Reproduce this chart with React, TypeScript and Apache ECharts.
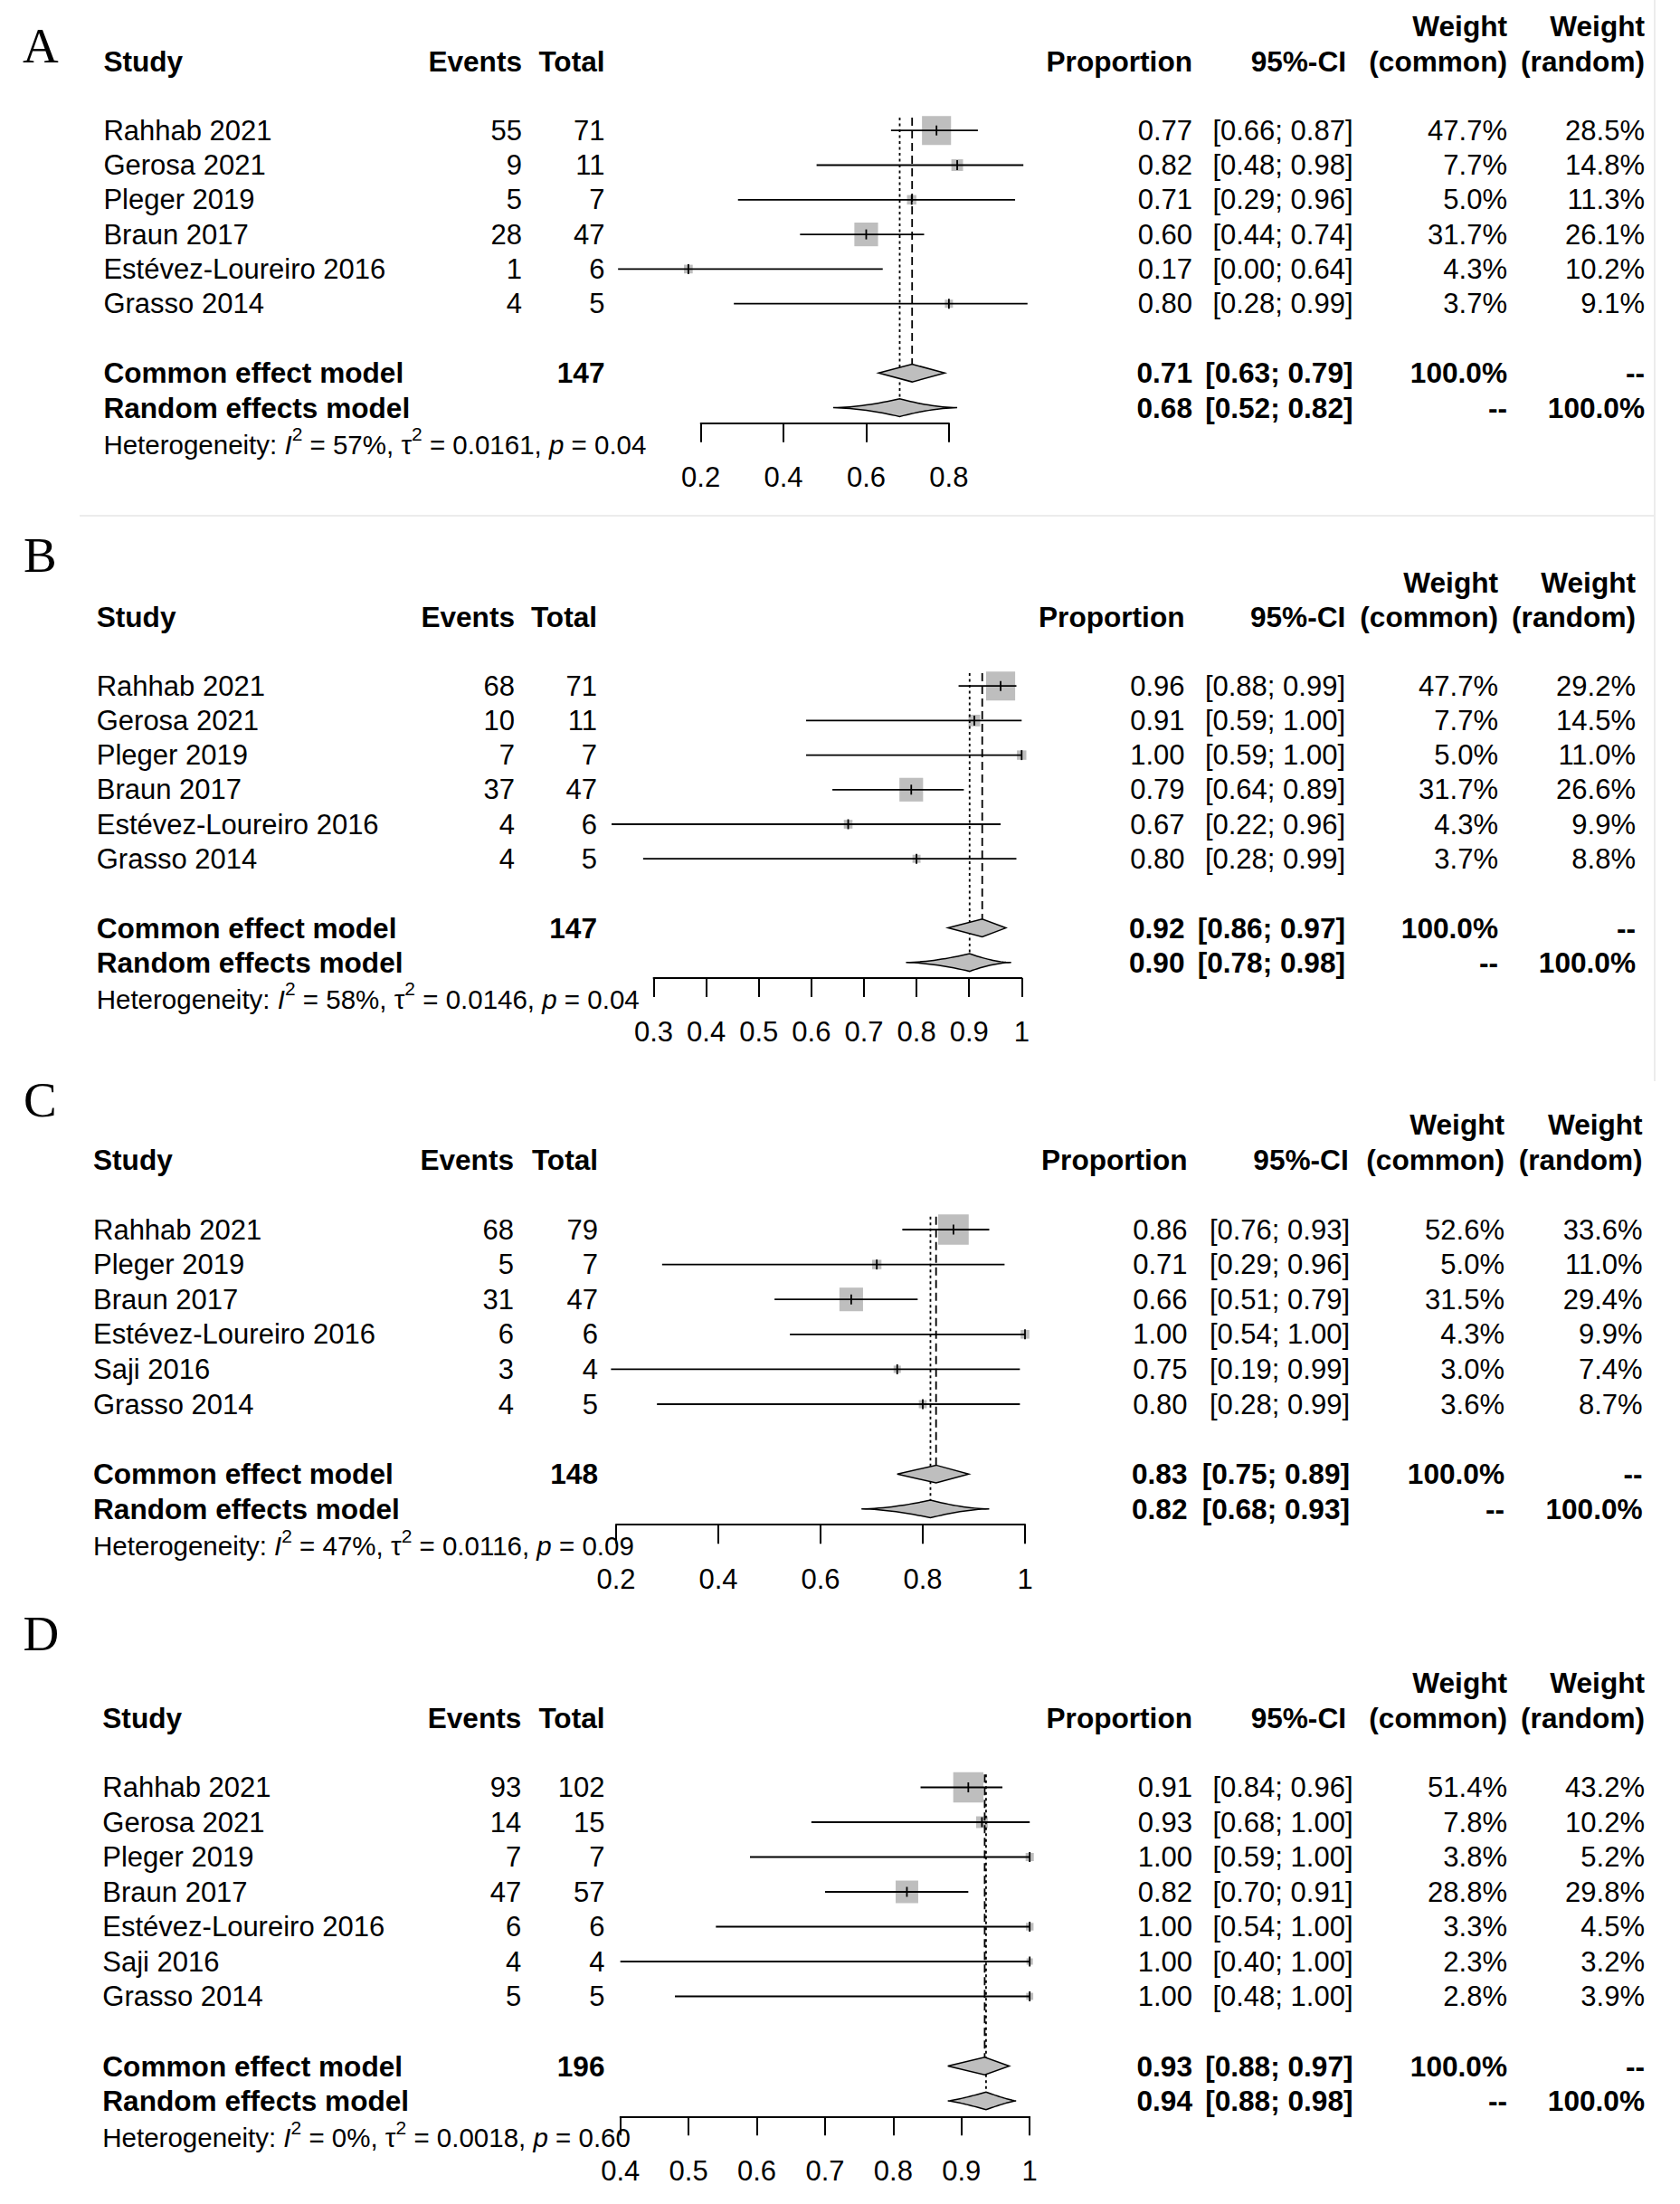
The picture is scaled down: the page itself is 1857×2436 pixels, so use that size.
import React, { useEffect, useRef } from 'react';
import * as echarts from 'echarts';

// ---------------- DATA ----------------
// Panel A
const studiesA = ['Rahhab 2021', 'Gerosa 2021', 'Pleger 2019', 'Braun 2017', 'Estévez-Loureiro 2016', 'Grasso 2014'];
const eventsA = [55, 9, 5, 28, 1, 4];
const totalsA = [71, 11, 7, 47, 6, 5];
const propA = [0.77, 0.82, 0.71, 0.6, 0.17, 0.8];
const lowerA = [0.66, 0.48, 0.29, 0.44, 0.0, 0.28];
const upperA = [0.87, 0.98, 0.96, 0.74, 0.64, 0.99];
const wCommonA = [47.7, 7.7, 5.0, 31.7, 4.3, 3.7];
const wRandomA = [28.5, 14.8, 11.3, 26.1, 10.2, 9.1];
const commonA = [0.71, 0.63, 0.79];
const randomA = [0.68, 0.52, 0.82];
const refLinesA = [0.711, 0.681]; // common, random
const hetA = ['57%', '0.0161', '0.04'];
const ticksA = [0.2, 0.4, 0.6, 0.8];

// Panel B
const studiesB = ['Rahhab 2021', 'Gerosa 2021', 'Pleger 2019', 'Braun 2017', 'Estévez-Loureiro 2016', 'Grasso 2014'];
const eventsB = [68, 10, 7, 37, 4, 4];
const totalsB = [71, 11, 7, 47, 6, 5];
const propB = [0.96, 0.91, 1.0, 0.79, 0.67, 0.8];
const lowerB = [0.88, 0.59, 0.59, 0.64, 0.22, 0.28];
const upperB = [0.99, 1.0, 1.0, 0.89, 0.96, 0.99];
const wCommonB = [47.7, 7.7, 5.0, 31.7, 4.3, 3.7];
const wRandomB = [29.2, 14.5, 11.0, 26.6, 9.9, 8.8];
const commonB = [0.92, 0.86, 0.97];
const randomB = [0.9, 0.78, 0.98];
const refLinesB = [0.925, 0.901];
const hetB = ['58%', '0.0146', '0.04'];
const ticksB = [0.3, 0.4, 0.5, 0.6, 0.7, 0.8, 0.9, 1];

// Panel C
const studiesC = ['Rahhab 2021', 'Pleger 2019', 'Braun 2017', 'Estévez-Loureiro 2016', 'Saji 2016', 'Grasso 2014'];
const eventsC = [68, 5, 31, 6, 3, 4];
const totalsC = [79, 7, 47, 6, 4, 5];
const propC = [0.86, 0.71, 0.66, 1.0, 0.75, 0.8];
const lowerC = [0.76, 0.29, 0.51, 0.54, 0.19, 0.28];
const upperC = [0.93, 0.96, 0.79, 1.0, 0.99, 0.99];
const wCommonC = [52.6, 5.0, 31.5, 4.3, 3.0, 3.6];
const wRandomC = [33.6, 11.0, 29.4, 9.9, 7.4, 8.7];
const commonC = [0.83, 0.75, 0.89];
const randomC = [0.82, 0.68, 0.93];
const refLinesC = [0.826, 0.815];
const hetC = ['47%', '0.0116', '0.09'];
const ticksC = [0.2, 0.4, 0.6, 0.8, 1];

// Panel D
const studiesD = ['Rahhab 2021', 'Gerosa 2021', 'Pleger 2019', 'Braun 2017', 'Estévez-Loureiro 2016', 'Saji 2016', 'Grasso 2014'];
const eventsD = [93, 14, 7, 47, 6, 4, 5];
const totalsD = [102, 15, 7, 57, 6, 4, 5];
const propD = [0.91, 0.93, 1.0, 0.82, 1.0, 1.0, 1.0];
const lowerD = [0.84, 0.68, 0.59, 0.7, 0.54, 0.4, 0.48];
const upperD = [0.96, 1.0, 1.0, 0.91, 1.0, 1.0, 1.0];
const wCommonD = [51.4, 7.8, 3.8, 28.8, 3.3, 2.3, 2.8];
const wRandomD = [43.2, 10.2, 5.2, 29.8, 4.5, 3.2, 3.9];
const commonD = [0.93, 0.88, 0.97];
const randomD = [0.94, 0.88, 0.98];
const refLinesD = [0.934, 0.936];
const hetD = ['0%', '0.0018', '0.60'];
const ticksD = [0.4, 0.5, 0.6, 0.7, 0.8, 0.9, 1];

const PANELS = [
  { letter: 'A', studies: studiesA, events: eventsA, totals: totalsA, prop: propA, lower: lowerA, upper: upperA, wCommon: wCommonA, wRandom: wRandomA, common: commonA, random: randomA, refs: refLinesA, het: hetA, ticks: ticksA },
  { letter: 'B', studies: studiesB, events: eventsB, totals: totalsB, prop: propB, lower: lowerB, upper: upperB, wCommon: wCommonB, wRandom: wRandomB, common: commonB, random: randomB, refs: refLinesB, het: hetB, ticks: ticksB },
  { letter: 'C', studies: studiesC, events: eventsC, totals: totalsC, prop: propC, lower: lowerC, upper: upperC, wCommon: wCommonC, wRandom: wRandomC, common: commonC, random: randomC, refs: refLinesC, het: hetC, ticks: ticksC },
  { letter: 'D', studies: studiesD, events: eventsD, totals: totalsD, prop: propD, lower: lowerD, upper: upperD, wCommon: wCommonD, wRandom: wRandomD, common: commonD, random: randomD, refs: refLinesD, het: hetD, ticks: ticksD },
];

// ---------------- LAYOUT / STYLE ----------------
const W = 1857;
const H = 2436;
const FONT = "'Liberation Sans', Arial, Helvetica, sans-serif";
const SERIF = "'Liberation Serif', 'Times New Roman', Times, serif";
const FS = 31;
const FSB = 31.6;
const HF = 29.5;
const SUP = 21;
const BOX_K = 4.65; // square side per sqrt(weight %)
const DIAM_H = 9.8; // diamond half height
const BOX_FILL = '#bebebe';
const AXIS_ROW = 4.45; // axis line position, rows below the header

const LAYOUT = [
  { rp: 38.3, letterX: 25, letterY: 50.4, y0: 67.6, textX: 114.4, eventsR: 577, totalR: 668.5, propR: 1318, ciR: 1495.5, ciHeadR: 1488, comR: 1666, ranR: 1818, axisL: 774.6, axisR: 1048.9, randP: 1.7 },
  { rp: 38.2, letterX: 26, letterY: 613.9, y0: 681.8, textX: 106.7, eventsR: 569, totalR: 660, propR: 1309.5, ciR: 1487, ciHeadR: 1487.3, comR: 1656, ranR: 1808, axisL: 722.5, axisR: 1129.3, randP: 1.7 },
  { rp: 38.6, letterX: 26, letterY: 1215.1, y0: 1281.8, textX: 103, eventsR: 568, totalR: 661, propR: 1312.5, ciR: 1492, ciHeadR: 1490.7, comR: 1663, ranR: 1815.6, axisL: 681, axisR: 1133, randP: 1.7 },
  { rp: 38.5, letterX: 25.5, letterY: 1805.7, y0: 1898.5, textX: 113.3, eventsR: 576.3, totalR: 668.5, propR: 1318, ciR: 1495.5, ciHeadR: 1488, comR: 1666, ranR: 1818, axisL: 685.7, axisR: 1138.2, randP: 1.25 },
];

const f2 = (v: number) => v.toFixed(2);
const ci = (lo: number, hi: number) => `[${f2(lo)}; ${f2(hi)}]`;
const pct = (v: number) => `${v.toFixed(1)}%`;
const NB = '\u00a0';

function textEl(x: number, y: number, text: string, align: string, bold = false, size?: number) {
  const fs = size || (bold ? FSB : FS);
  return {
    type: 'text',
    x,
    y,
    silent: true,
    style: {
      text,
      fill: '#000',
      fontSize: fs,
      fontFamily: FONT,
      fontWeight: bold ? 'bold' : 'normal',
      align,
      verticalAlign: 'middle',
      textAlign: align,
      textVerticalAlign: 'middle',
    },
  };
}

function panelTexts(d: any, L: any) {
  const els: any[] = [];
  const n = d.studies.length;
  const Y = (r: number) => L.y0 + r * L.rp;
  els.push({
    type: 'text', x: L.letterX, y: L.letterY, silent: true,
    style: { text: d.letter, fill: '#000', fontSize: 55, fontFamily: SERIF, align: 'left', verticalAlign: 'middle', textAlign: 'left', textVerticalAlign: 'middle' },
  });
  els.push(textEl(L.comR, Y(-1), 'Weight', 'right', true));
  els.push(textEl(L.ranR, Y(-1), 'Weight', 'right', true));
  els.push(textEl(L.textX, Y(0), 'Study', 'left', true));
  els.push(textEl(L.eventsR, Y(0), 'Events', 'right', true));
  els.push(textEl(L.totalR, Y(0), 'Total', 'right', true));
  els.push(textEl(L.propR, Y(0), 'Proportion', 'right', true));
  els.push(textEl(L.ciHeadR, Y(0), '95%-CI', 'right', true));
  els.push(textEl(L.comR, Y(0), '(common)', 'right', true));
  els.push(textEl(L.ranR, Y(0), '(random)', 'right', true));
  d.studies.forEach((s: string, j: number) => {
    const y = Y(2 + j);
    els.push(textEl(L.textX, y, s, 'left'));
    els.push(textEl(L.eventsR, y, String(d.events[j]), 'right'));
    els.push(textEl(L.totalR, y, String(d.totals[j]), 'right'));
    els.push(textEl(L.propR, y, f2(d.prop[j]), 'right'));
    els.push(textEl(L.ciR, y, ci(d.lower[j], d.upper[j]), 'right'));
    els.push(textEl(L.comR, y, pct(d.wCommon[j]), 'right'));
    els.push(textEl(L.ranR, y, pct(d.wRandom[j]), 'right'));
  });
  const total = d.totals.reduce((a: number, b: number) => a + b, 0);
  const yc = Y(n + 3);
  els.push(textEl(L.textX, yc, 'Common effect model', 'left', true));
  els.push(textEl(L.totalR, yc, String(total), 'right', true));
  els.push(textEl(L.propR, yc, f2(d.common[0]), 'right', true));
  els.push(textEl(L.ciR, yc, ci(d.common[1], d.common[2]), 'right', true));
  els.push(textEl(L.comR, yc, '100.0%', 'right', true));
  els.push(textEl(L.ranR, yc, '--', 'right', true));
  const yr = Y(n + 4);
  els.push(textEl(L.textX, yr, 'Random effects model', 'left', true));
  els.push(textEl(L.propR, yr, f2(d.random[0]), 'right', true));
  els.push(textEl(L.ciR, yr, ci(d.random[1], d.random[2]), 'right', true));
  els.push(textEl(L.comR, yr, '--', 'right', true));
  els.push(textEl(L.ranR, yr, '100.0%', 'right', true));
  // heterogeneity
  const h = d.het;
  const rich = `{n|Heterogeneity:${NB}}{i|I}{s|2}{n|${NB}=${NB}${h[0]},${NB}τ}{s|2}{n|${NB}=${NB}${h[1]},${NB}}{i|p}{n|${NB}=${NB}${h[2]}}`;
  els.push({
    type: 'text', x: L.textX, y: Y(n + 5.06), silent: true,
    style: {
      text: rich, fill: '#000', fontSize: HF, fontFamily: FONT,
      align: 'left', verticalAlign: 'middle', textAlign: 'left', textVerticalAlign: 'middle',
      rich: {
        n: { fontSize: HF, fontFamily: FONT, fill: '#000', lineHeight: 44, verticalAlign: 'middle' },
        i: { fontSize: HF, fontFamily: FONT, fill: '#000', fontStyle: 'italic', lineHeight: 44, verticalAlign: 'middle' },
        s: { fontSize: SUP, fontFamily: FONT, fill: '#000', lineHeight: 12, verticalAlign: 'top' },
      },
    },
  });
  return els;
}

function renderItemFor(randP: number) {
  return (params: any, api: any) => {
    const kind = api.value(0);
    const a = api.value(1);
    const b = api.value(2);
    const c = api.value(3);
    const row = api.value(4);
    const w = api.value(5);
    if (kind === 0) {
      const pe = api.coord([a, row]);
      const xl = api.coord([b, row])[0];
      const xh = api.coord([c, row])[0];
      const s = BOX_K * Math.sqrt(w);
      return {
        type: 'group',
        children: [
          { type: 'rect', shape: { x: pe[0] - s / 2, y: pe[1] - s / 2, width: s, height: s }, style: { fill: BOX_FILL } },
          { type: 'line', shape: { x1: xl, y1: pe[1], x2: xh, y2: pe[1] }, style: { stroke: '#000', lineWidth: 1.8 } },
          { type: 'line', shape: { x1: pe[0], y1: pe[1] - 5.5, x2: pe[0], y2: pe[1] + 5.5 }, style: { stroke: '#000', lineWidth: 1.8 } },
        ],
      };
    }
    if (kind === 1 || kind === 2) {
      const pe = api.coord([a, row]);
      const xl = api.coord([b, row])[0];
      const xh = api.coord([c, row])[0];
      const p = kind === 2 ? randP : 1;
      const N = p === 1 ? 1 : 16;
      const yc = pe[1];
      const xe = pe[0];
      const pts: number[][] = [];
      for (let i = 0; i <= N; i++) { const t = i / N; pts.push([xl + (xe - xl) * t, yc - DIAM_H * Math.pow(t, p)]); }
      for (let i = N - 1; i >= 0; i--) { const t = i / N; pts.push([xh + (xe - xh) * t, yc - DIAM_H * Math.pow(t, p)]); }
      for (let i = 1; i <= N; i++) { const t = i / N; pts.push([xh + (xe - xh) * t, yc + DIAM_H * Math.pow(t, p)]); }
      for (let i = N - 1; i > 0; i--) { const t = i / N; pts.push([xl + (xe - xl) * t, yc + DIAM_H * Math.pow(t, p)]); }
      return { type: 'polygon', shape: { points: pts }, style: { fill: BOX_FILL, stroke: '#000', lineWidth: 1.5 } };
    }
    // reference lines
    const top = api.coord([a, b]);
    const bot = api.coord([a, c]);
    return {
      type: 'line',
      shape: { x1: top[0], y1: top[1], x2: top[0], y2: bot[1] - DIAM_H },
      style: { stroke: '#000', lineWidth: 1.8, lineDash: kind === 3 ? [9, 5] : [3, 3.5] },
    };
  };
}

function buildOption() {
  const grid: any[] = [];
  const xAxis: any[] = [];
  const yAxis: any[] = [];
  const series: any[] = [];
  let graphics: any[] = [];
  PANELS.forEach((d, i) => {
    const L = LAYOUT[i];
    const n = d.studies.length;
    const tks = d.ticks;
    const interval = Math.round((tks[1] - tks[0]) * 1000) / 1000;
    const yMax = n + AXIS_ROW;
    grid.push({
      left: L.axisL, top: L.y0 - 1.5 * L.rp, width: L.axisR - L.axisL, height: (yMax + 1.5) * L.rp,
      containLabel: false, outerBoundsMode: 'none', show: false,
    });
    xAxis.push({
      gridIndex: i, type: 'value', min: tks[0], max: tks[tks.length - 1], interval, position: 'bottom',
      axisLine: { show: true, onZero: false, lineStyle: { color: '#000', width: 2 } },
      axisTick: { show: true, inside: false, length: 21, lineStyle: { color: '#000', width: 2 } },
      axisLabel: { show: true, color: '#000', fontSize: FS, fontFamily: FONT, margin: 60, verticalAlign: 'middle', hideOverlap: false },
      splitLine: { show: false },
    });
    yAxis.push({ gridIndex: i, type: 'value', min: -1.5, max: yMax, inverse: true, show: false, splitLine: { show: false } });
    const data: number[][] = [];
    d.studies.forEach((_s, j) => data.push([0, d.prop[j], d.lower[j], d.upper[j], 2 + j, d.wCommon[j]]));
    data.push([3, d.refs[0], 1.63, n + 3, 0, 0]);
    data.push([4, d.refs[1], 1.63, n + 4, 0, 0]);
    data.push([1, d.refs[0], d.common[1], d.common[2], n + 3, 0]);
    data.push([2, d.refs[1], d.random[1], d.random[2], n + 4, 0]);
    series.push({
      type: 'custom', name: 'forest' + d.letter, xAxisIndex: i, yAxisIndex: i, clip: false,
      dimensions: ['kind', 'a', 'b', 'c', 'row', 'w'], encode: { x: 1, y: 4 },
      renderItem: renderItemFor(L.randP), data, silent: true,
    });
    graphics = graphics.concat(panelTexts(d, L));
  });
  // faint page borders seen in the picture
  graphics.push({ type: 'line', silent: true, shape: { x1: 88, y1: 570, x2: 1829, y2: 570 }, style: { stroke: '#ececec', lineWidth: 2 } });
  graphics.push({ type: 'line', silent: true, shape: { x1: 1829, y1: 0, x2: 1829, y2: 1195 }, style: { stroke: '#ececec', lineWidth: 2 } });
  return {
    animation: false,
    backgroundColor: '#ffffff',
    grid, xAxis, yAxis, series,
    graphic: { elements: graphics },
  };
}

export default function App() {
  const ref = useRef<HTMLDivElement>(null);
  useEffect(() => {
    if (!ref.current) return;
    const chart = echarts.init(ref.current, null, { renderer: 'svg', width: W, height: H });
    chart.setOption(buildOption() as any);
    return () => chart.dispose();
  }, []);
  return <div ref={ref} style={{ position: 'absolute', left: 0, top: 0, width: W, height: H, background: '#fff' }} />;
}
